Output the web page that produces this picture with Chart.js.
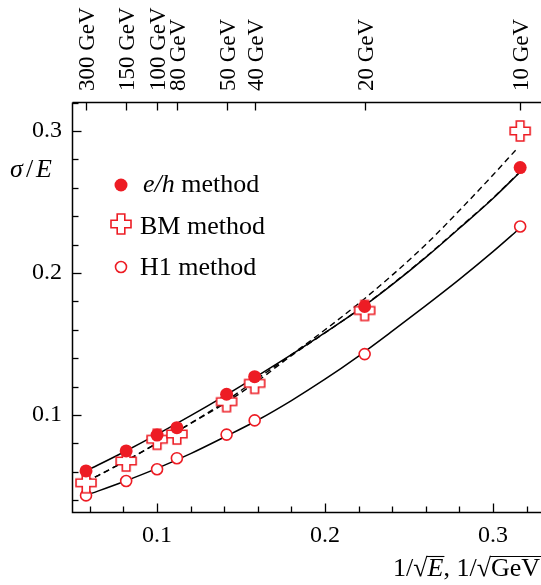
<!DOCTYPE html>
<html>
<head>
<meta charset="utf-8">
<script src="https://cdn.jsdelivr.net/npm/chart.js@4.4.1/dist/chart.umd.min.js"></script>
<style>
  html, body { margin: 0; padding: 0; background: #fff; }
  canvas { display: block; }
</style>
</head>
<body>
<canvas id="resChart" width="541" height="585"></canvas>
<script>
// top axis: beam energies and their 1/sqrt(E) positions
const energyLabels = ['300 GeV', '150 GeV', '100 GeV', '80 GeV', '50 GeV', '40 GeV', '20 GeV', '10 GeV'];
const invSqrtE = [0.0577, 0.0816, 0.1, 0.1118, 0.1414, 0.1581, 0.2236, 0.3162];

// measured sigma/E for the three methods
const ehValues = [0.0606, 0.0747, 0.0859, 0.0911, 0.1146, 0.1270, 0.1764, 0.2742];
const bmValues = [0.0523, 0.0676, 0.0829, 0.0866, 0.1094, 0.1223, 0.1736, 0.3000];
const h1Values = [0.0434, 0.0535, 0.0618, 0.0696, 0.0862, 0.0962, 0.1429, 0.2327];

// fit curves
const fitX      = [0.0577, 0.08, 0.10, 0.12, 0.14, 0.16, 0.18, 0.20, 0.22, 0.24, 0.26, 0.28, 0.30, 0.3162];
const ehFit     = [0.0606, 0.0738, 0.0863, 0.0995, 0.1133, 0.1277, 0.1425, 0.1580, 0.1740, 0.1918, 0.2110, 0.2315, 0.2525, 0.2711];
const bmFitLow  = [0.0530, 0.0668, 0.0802, 0.0940, 0.1080, 0.1240, 0.1418, 0.1578, 0.1742, 0.1921, 0.2113, 0.2318, 0.2528, 0.2714];
const bmFitHighX = [0.0577, 0.08, 0.10, 0.12, 0.14, 0.16, 0.18, 0.20, 0.22, 0.24, 0.26, 0.28, 0.30, 0.3136];
const bmFitHigh = [0.0530, 0.0668, 0.0802, 0.0942, 0.1090, 0.1258, 0.1425, 0.1600, 0.1785, 0.1985, 0.2200, 0.2440, 0.2690, 0.2866];
const h1Fit     = [0.0434, 0.0530, 0.0624, 0.0728, 0.0844, 0.0965, 0.1102, 0.1252, 0.1415, 0.1590, 0.1770, 0.1955, 0.2150, 0.2317];

// tick positions
const xTickValues = [0.06, 0.08, 0.10, 0.12, 0.14, 0.16, 0.18, 0.20, 0.22, 0.24, 0.26, 0.28, 0.30, 0.32];
const yTickValues = [0.04, 0.06, 0.08, 0.10, 0.12, 0.14, 0.16, 0.18, 0.20, 0.22, 0.24, 0.26, 0.28, 0.30, 0.32];

const RED = '#ed1c24';
const FONT = '"Liberation Serif", "DejaVu Serif", serif';

const toPoints = (xs, ys) => xs.map((x, i) => ({ x: x, y: ys[i] }));
const isMajor = v => Math.abs(v * 10 - Math.round(v * 10)) < 1e-6;

// outlined plus marker used by the BM method
function makeCross() {
    const c = document.createElement('canvas');
    c.width = 24; c.height = 24;
    const g = c.getContext('2d');
    const cx = 12, cy = 12, a = 3.8, L = 10;
    g.beginPath();
    g.moveTo(cx - a, cy - L); g.lineTo(cx + a, cy - L); g.lineTo(cx + a, cy - a);
    g.lineTo(cx + L, cy - a); g.lineTo(cx + L, cy + a); g.lineTo(cx + a, cy + a);
    g.lineTo(cx + a, cy + L); g.lineTo(cx - a, cy + L); g.lineTo(cx - a, cy + a);
    g.lineTo(cx - L, cy + a); g.lineTo(cx - L, cy - a); g.lineTo(cx - a, cy - a);
    g.closePath();
    g.fillStyle = '#fff';
    g.fill();
    g.strokeStyle = RED;
    g.lineWidth = 1.6;
    g.stroke();
    return c;
}
const crossImg = makeCross();

function tickLine(ctx, x0, y0, x1, y1) {
    ctx.beginPath();
    ctx.moveTo(x0, y0);
    ctx.lineTo(x1, y1);
    ctx.stroke();
}

// frame, inward tick marks, rotated energy labels, legend and axis titles
const overlay = {
    id: 'overlay',
    afterDraw(chart) {
        const ctx = chart.ctx;
        const a = chart.chartArea;
        const sx = chart.scales.x, sy = chart.scales.y, sx2 = chart.scales.x2;
        const top = Math.round(a.top) + 0.5;
        const bottom = Math.round(a.bottom) - 0.5;
        const left = Math.round(a.left) + 0.5;
        ctx.save();
        ctx.strokeStyle = '#000';
        ctx.fillStyle = '#000';
        ctx.lineWidth = 1.5;
        ctx.beginPath();
        ctx.moveTo(left, top);
        ctx.lineTo(left, bottom);
        ctx.lineTo(a.right, bottom);
        ctx.moveTo(left, top);
        ctx.lineTo(a.right, top);
        ctx.stroke();

        ctx.lineWidth = 1.3;
        xTickValues.forEach(v => {
            let px = sx.getPixelForValue(v);
            if (!isFinite(px)) px = sx2.getPixelForValue(v);
            px = Math.round(px) + 0.5;
            tickLine(ctx, px, bottom, px, bottom - (isMajor(v) ? 9 : 6));
        });
        yTickValues.forEach(v => {
            const py = Math.round(sy.getPixelForValue(v)) + 0.5;
            tickLine(ctx, left, py, left + (isMajor(v) ? 9 : 6), py);
        });
        invSqrtE.forEach((v, i) => {
            const px = Math.round(sx2.getPixelForValue(v)) + 0.5;
            tickLine(ctx, px, top, px, top + 8);
            ctx.save();
            ctx.translate(px + 1, a.top - 11);
            ctx.rotate(-Math.PI / 2);
            ctx.font = '23px ' + FONT;
            ctx.textAlign = 'left';
            ctx.textBaseline = 'middle';
            ctx.fillText(energyLabels[i], 0, 0);
            ctx.restore();
        });

        // legend
        ctx.textBaseline = 'alphabetic';
        const mx = 121, tx = 140;
        ctx.fillStyle = RED;
        ctx.beginPath();
        ctx.arc(mx, 185, 6.5, 0, Math.PI * 2);
        ctx.fill();
        ctx.drawImage(crossImg, mx - 12, 224 - 12);
        ctx.beginPath();
        ctx.arc(mx, 267, 5.5, 0, Math.PI * 2);
        ctx.fillStyle = '#fff';
        ctx.fill();
        ctx.strokeStyle = RED;
        ctx.lineWidth = 1.6;
        ctx.stroke();

        ctx.fillStyle = '#000';
        ctx.font = 'italic 26px ' + FONT;
        ctx.fillText('e/h', tx + 3, 192);
        const w = ctx.measureText('e/h').width;
        ctx.font = '26px ' + FONT;
        ctx.fillText(' method', tx + 3 + w, 192);
        ctx.fillText('BM method', tx, 234);
        ctx.fillText('H1 method', tx, 275);

        // y title
        ctx.font = 'italic 26px ' + FONT;
        ctx.fillText('σ', 10, 177);
        ctx.font = '26px ' + FONT;
        ctx.fillText('/', 26, 177);
        ctx.font = 'italic 26px ' + FONT;
        ctx.fillText('E', 36, 177);

        // x title: 1/√E, 1/√GeV (right aligned to the canvas edge)
        const by = 576;
        const parts = [['1/√', ''], ['E', 'italic '], [', 1/√', ''], ['GeV', '']];
        let total = 0;
        parts.forEach(p => { ctx.font = p[1] + '26px ' + FONT; total += ctx.measureText(p[0]).width; });
        let x = 540 - total;
        ctx.strokeStyle = '#000';
        parts.forEach((p, i) => {
            ctx.font = p[1] + '26px ' + FONT;
            ctx.fillText(p[0], x, by);
            const ww = ctx.measureText(p[0]).width;
            if (i === 1 || i === 3) {
                ctx.lineWidth = 1.1;
                tickLine(ctx, x - 1, by - 19.5, x + ww + 1, by - 19.5);
            }
            x += ww;
        });
        ctx.restore();
    }
};

const tickFont = { family: FONT, size: 24 };
const noPad = s => { s.paddingLeft = 0; s.paddingRight = 0; s.paddingTop = 0; s.paddingBottom = 0; };

new Chart(document.getElementById('resChart'), {
    type: 'scatter',
    data: {
        datasets: [
            {
                label: 'e/h method',
                data: toPoints(invSqrtE, ehValues),
                pointStyle: 'circle',
                pointRadius: 6.5,
                backgroundColor: RED,
                borderColor: RED,
                borderWidth: 0,
                order: 0
            },
            {
                label: 'BM method',
                data: toPoints(invSqrtE, bmValues),
                pointStyle: crossImg,
                order: 0
            },
            {
                label: 'H1 method',
                data: toPoints(invSqrtE, h1Values),
                pointStyle: 'circle',
                pointRadius: 5.5,
                backgroundColor: '#fff',
                borderColor: RED,
                borderWidth: 1.6,
                order: 0
            },
            {
                label: 'e/h fit',
                data: toPoints(fitX, ehFit),
                showLine: true,
                pointRadius: 0,
                borderColor: '#000',
                borderWidth: 1.5,
                cubicInterpolationMode: 'monotone',
                order: 1
            },
            {
                label: 'BM fit 1',
                data: toPoints(fitX, bmFitLow),
                showLine: true,
                pointRadius: 0,
                borderColor: '#000',
                borderWidth: 1.4,
                borderDash: [6, 4],
                cubicInterpolationMode: 'monotone',
                order: 1
            },
            {
                label: 'BM fit 2',
                data: toPoints(bmFitHighX, bmFitHigh),
                showLine: true,
                pointRadius: 0,
                borderColor: '#000',
                borderWidth: 1.4,
                borderDash: [6, 4],
                cubicInterpolationMode: 'monotone',
                order: 1
            },
            {
                label: 'H1 fit',
                data: toPoints(fitX, h1Fit),
                showLine: true,
                pointRadius: 0,
                borderColor: '#000',
                borderWidth: 1.5,
                cubicInterpolationMode: 'monotone',
                order: 1
            }
        ]
    },
    options: {
        responsive: false,
        animation: false,
        devicePixelRatio: 1,
        layout: { padding: 0, autoPadding: false },
        plugins: {
            legend: { display: false },
            tooltip: { enabled: false }
        },
        scales: {
            x: {
                type: 'linear',
                position: 'bottom',
                min: 0.04935,
                max: 0.3286,
                afterBuildTicks: s => { s.ticks = xTickValues.map(v => ({ value: v })); },
                afterFit: s => { s.height = 72; noPad(s); },
                grid: { display: false, drawTicks: false },
                border: { display: false },
                ticks: {
                    color: '#000',
                    font: tickFont,
                    padding: 8,
                    autoSkip: false,
                    maxRotation: 0,
                    callback: v => isMajor(v) ? v.toFixed(1) : ''
                }
            },
            x2: {
                type: 'linear',
                position: 'top',
                min: 0.04935,
                max: 0.3286,
                afterFit: s => { s.height = 102; noPad(s); },
                grid: { display: false, drawTicks: false },
                border: { display: false },
                ticks: { display: false }
            },
            y: {
                type: 'linear',
                position: 'left',
                min: 0.031,
                max: 0.3204,
                afterBuildTicks: s => { s.ticks = yTickValues.map(v => ({ value: v })); },
                afterFit: s => { s.width = 72; noPad(s); },
                grid: { display: false, drawTicks: false },
                border: { display: false },
                ticks: {
                    color: '#000',
                    font: tickFont,
                    padding: 10,
                    autoSkip: false,
                    callback: v => isMajor(v) ? v.toFixed(1) : ''
                }
            }
        }
    },
    plugins: [overlay]
});
</script>
</body>
</html>
